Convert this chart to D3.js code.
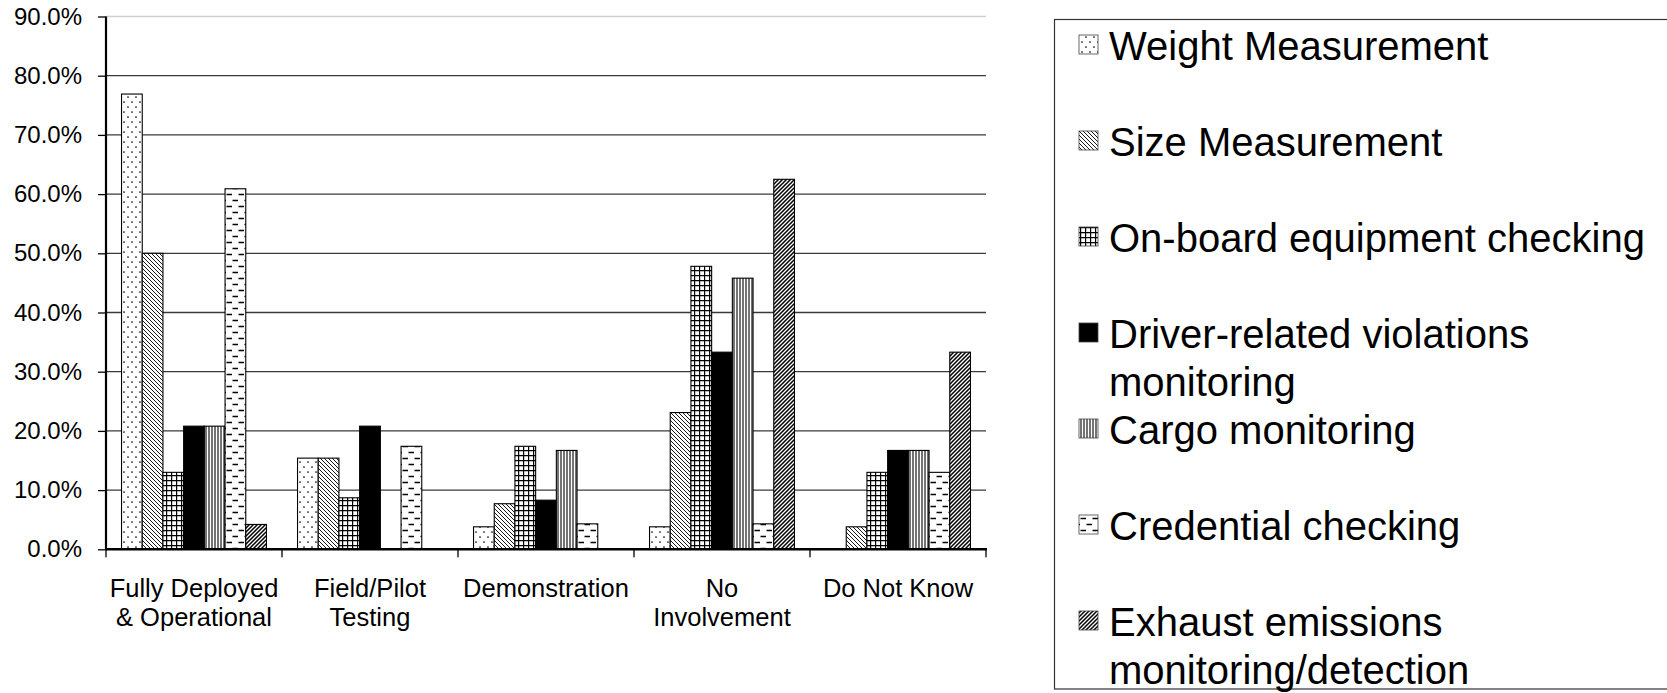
<!DOCTYPE html>
<html>
<head>
<meta charset="utf-8">
<script src="https://cdn.jsdelivr.net/npm/d3@7"></script>
<style>
  html, body { margin: 0; padding: 0; background: #fff; }
  svg { display: block; }
  text { font-family: "Liberation Sans", Arial, sans-serif; fill: #000; }
</style>
</head>
<body>
<div id="chart"></div>
<script>
// ---------------- data ----------------
const categories = ["Fully Deployed & Operational", "Field/Pilot Testing", "Demonstration", "No Involvement", "Do Not Know"];
const categoryLines = [["Fully Deployed", "& Operational"], ["Field/Pilot", "Testing"], ["Demonstration"], ["No", "Involvement"], ["Do Not Know"]];
const seriesNames = ["Weight Measurement", "Size Measurement", "On-board equipment checking", "Driver-related violations monitoring", "Cargo monitoring", "Credential checking", "Exhaust emissions monitoring/detection"];
const legendLines = [["Weight Measurement"], ["Size Measurement"], ["On-board equipment checking"], ["Driver-related violations", "monitoring"], ["Cargo monitoring"], ["Credential checking"], ["Exhaust emissions", "monitoring/detection"]];
const weightValues     = [76.9, 15.4, 3.8, 3.8, 0.0];
const sizeValues       = [50.0, 15.4, 7.7, 23.1, 3.8];
const onboardValues    = [13.0, 8.7, 17.4, 47.8, 13.0];
const driverValues     = [20.8, 20.8, 8.3, 33.3, 16.7];
const cargoValues      = [20.8, 0.0, 16.7, 45.8, 16.7];
const credentialValues = [60.9, 17.4, 4.3, 4.3, 13.0];
const exhaustValues    = [4.2, 0.0, 0.0, 62.5, 33.3];
const yTicks = [0, 10, 20, 30, 40, 50, 60, 70, 80, 90];

const seriesValues = [weightValues, sizeValues, onboardValues, driverValues, cargoValues, credentialValues, exhaustValues];
const patternIds = ["p-dots", "p-down", "p-grid", "p-solid", "p-vert", "p-dash", "p-up"];

// ---------------- layout ----------------
const W = 1667, H = 693;
const plot = { left: 106, right: 986, top: 16.5, bottom: 549.3 };

const svg = d3.select("#chart").append("svg").attr("width", W).attr("height", H);
const defs = svg.append("defs");

function pat(id, w, h) {
  const p = defs.append("pattern").attr("id", id).attr("patternUnits", "userSpaceOnUse")
    .attr("width", w).attr("height", h);
  p.append("rect").attr("width", w).attr("height", h).attr("fill", "#fff");
  return p;
}
// dotted
{ const p = pat("p-dots", 8, 10);
  p.append("circle").attr("cx", 2).attr("cy", 2).attr("r", 0.85).attr("fill", "#000");
  p.append("circle").attr("cx", 6).attr("cy", 7).attr("r", 0.85).attr("fill", "#000"); }
// wide downward diagonal (\)
{ const p = pat("p-down", 4, 4);
  p.append("path").attr("d", "M-1,-1 L5,5 M-1,3 L1,5 M3,-1 L5,1").attr("stroke", "#000").attr("stroke-width", 0.9); }
// grid
{ const p = pat("p-grid", 5, 5);
  p.append("path").attr("d", "M0.5,0 V5 M0,0.5 H5").attr("stroke", "#000").attr("stroke-width", 1.4); }
// solid
{ const p = pat("p-solid", 4, 4); p.select("rect").attr("fill", "#000"); }
// vertical lines
{ const p = pat("p-vert", 3, 3);
  p.append("path").attr("d", "M1,0 V3").attr("stroke", "#000").attr("stroke-width", 1.1); }
// horizontal dashes
{ const p = pat("p-dash", 12, 12);
  p.append("path").attr("d", "M0.5,2.5 H6 M6.5,8.5 H12").attr("stroke", "#000").attr("stroke-width", 1.6); }
// dark upward diagonal (/)
{ const p = pat("p-up", 4, 4);
  p.append("path").attr("d", "M-1,5 L5,-1 M-1,1 L1,-1 M3,5 L5,3").attr("stroke", "#000").attr("stroke-width", 1.5); }

// ---------------- scales ----------------
const x0 = d3.scaleBand().domain(categories).range([plot.left, plot.right]).paddingInner(0).paddingOuter(0);
const bw = x0.bandwidth();
const x1 = d3.scaleBand().domain(seriesNames).range([bw / 8.5 * 0.75, bw - bw / 8.5 * 0.75]).padding(0);
const y = d3.scaleLinear().domain([0, 90]).range([plot.bottom, plot.top]);

// gridlines
const grid = svg.append("g");
grid.selectAll("line").data(yTicks.filter(d => d > 0)).join("line")
  .attr("x1", plot.left).attr("x2", plot.right)
  .attr("y1", d => y(d)).attr("y2", d => y(d))
  .attr("stroke", d => d === 90 ? "#d0d0d0" : "#3a3a3a")
  .attr("stroke-width", 1.3);

// bars
const groups = svg.append("g").selectAll("g").data(categories).join("g")
  .attr("transform", d => `translate(${x0(d)},0)`);
groups.selectAll("rect")
  .data((c, ci) => seriesNames.map((s, si) => ({ s, si, v: seriesValues[si][ci] })).filter(d => d.v > 0))
  .join("rect")
  .attr("x", d => x1(d.s))
  .attr("width", x1.bandwidth())
  .attr("y", d => y(d.v))
  .attr("height", d => y(0) - y(d.v))
  .attr("fill", d => `url(#${patternIds[d.si]})`)
  .attr("stroke", "#000").attr("stroke-width", 1.1);

// y axis
const yAxis = d3.axisLeft(y).tickValues(yTicks).tickSize(8).tickPadding(16)
  .tickFormat(d => d3.format(".1%")(d / 100));
const gy = svg.append("g").attr("transform", `translate(${plot.left},0)`).call(yAxis);
gy.select(".domain").attr("stroke", "#000").attr("stroke-width", 2.2).attr("d", `M0,${plot.top}V${plot.bottom}`);
gy.selectAll(".tick line").attr("stroke", "#000").attr("stroke-width", 1.3);
gy.selectAll(".tick text").attr("font-size", 24).attr("font-family", "Liberation Sans, Arial, sans-serif").attr("fill", "#000");

// x axis (ticks at category boundaries)
const gx = svg.append("g").attr("transform", `translate(0,${plot.bottom})`);
gx.append("line").attr("x1", plot.left).attr("x2", plot.right + 1).attr("stroke", "#000").attr("stroke-width", 2.5);
const boundaries = categories.map(c => x0(c)).concat([x0(categories[categories.length - 1]) + bw]);
gx.selectAll(".xt").data(boundaries).join("line").attr("class", "xt")
  .attr("x1", d => d).attr("x2", d => d).attr("y1", 0).attr("y2", 8)
  .attr("stroke", "#000").attr("stroke-width", 1.3);
const cl = svg.append("g").selectAll("text").data(categories).join("text")
  .attr("text-anchor", "middle")
  .attr("font-size", 25.5)
  .attr("x", d => x0(d) + bw / 2);
cl.each(function (d, i) {
  d3.select(this).selectAll("tspan").data(categoryLines[i]).join("tspan")
    .attr("x", x0(d) + bw / 2)
    .attr("y", (t, j) => 597 + j * 29)
    .text(t => t);
});

// legend
const lg = svg.append("g");
lg.append("rect").attr("x", 1054.5).attr("y", 19.5).attr("width", 620).attr("height", 669.5)
  .attr("fill", "none").attr("stroke", "#333").attr("stroke-width", 1.2);
const items = lg.selectAll("g.item").data(seriesNames).join("g").attr("class", "item")
  .attr("transform", (d, i) => `translate(0,${60 + i * 96})`);
items.append("rect").attr("x", 1079).attr("y", -25).attr("width", 19).attr("height", 19)
  .attr("fill", (d, i) => `url(#${patternIds[i]})`).attr("stroke", "#444").attr("stroke-width", 0.8);
items.append("text").attr("font-size", 40).each(function (d, i) {
  d3.select(this).selectAll("tspan").data(legendLines[i]).join("tspan")
    .attr("x", 1109).attr("y", (t, j) => j * 48).text(t => t);
});
</script>
</body>
</html>
